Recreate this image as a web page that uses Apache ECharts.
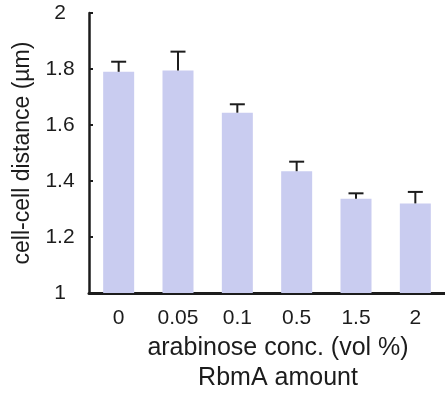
<!DOCTYPE html>
<html>
<head>
<meta charset="utf-8">
<script src="https://cdn.jsdelivr.net/npm/echarts@6/dist/echarts.min.js"></script>
<style>
  html, body { margin: 0; padding: 0; background: #fff; }
  #chart { width: 445px; height: 394px; }
</style>
</head>
<body>
<div id="chart"></div>
<script>
// Arabinose concentrations (vol %) that set RbmA expression
const categories = ['0', '0.05', '0.1', '0.5', '1.5', '2'];
// Mean cell-cell distance (µm)
const meanDistance = [1.79, 1.795, 1.644, 1.435, 1.337, 1.32];
// Upper error (µm)
const errorUp = [0.036, 0.067, 0.03, 0.034, 0.019, 0.041];
// Value-axis tick settings
const yMin = 1, yMax = 2, yStep = 0.2;

const FONT = '"Liberation Sans", Arial, sans-serif';
const INK = '#1c1c1c';

const chart = echarts.init(document.getElementById('chart'), null, { renderer: 'canvas' });

chart.setOption({
  animation: false,
  backgroundColor: '#ffffff',
  grid: { left: 89, top: 13, width: 360, height: 280, containLabel: false },
  xAxis: {
    type: 'category',
    data: categories,
    axisLine: { show: true, lineStyle: { color: INK, width: 3 } },
    axisTick: { show: false },
    axisLabel: { color: INK, fontFamily: FONT, fontSize: 21, margin: 15 }
  },
  yAxis: {
    type: 'value',
    min: yMin, max: yMax, interval: yStep,
    name: 'cell-cell distance (µm)',
    nameLocation: 'middle',
    nameGap: 47,
    nameTextStyle: { color: INK, fontFamily: FONT, fontSize: 23 },
    axisLine: { show: true, lineStyle: { color: INK, width: 2.5 } },
    axisTick: { show: true, inside: true, length: 4, lineStyle: { color: INK, width: 2 } },
    splitLine: { show: false },
    axisLabel: { color: INK, fontFamily: FONT, fontSize: 21, align: 'center', margin: 29 }
  },
  graphic: [
    {
      type: 'text', x: 278, y: 348,
      style: { text: 'arabinose conc. (vol %)', fill: INK, font: '25px ' + FONT, textAlign: 'center', textVerticalAlign: 'middle' }
    },
    {
      type: 'text', x: 278, y: 378,
      style: { text: 'RbmA amount', fill: INK, font: '25px ' + FONT, textAlign: 'center', textVerticalAlign: 'middle' }
    }
  ],
  series: [
    {
      type: 'bar',
      data: meanDistance,
      barWidth: 31,
      itemStyle: { color: '#c9ccf0' },
      z: 2
    },
    {
      type: 'custom',
      z: 3,
      data: meanDistance.map((v, i) => [i, v, v + errorUp[i]]),
      renderItem: function (params, api) {
        const base = api.coord([api.value(0), api.value(1)]);
        const top = api.coord([api.value(0), api.value(2)]);
        const half = 7.5;
        const style = { stroke: INK, lineWidth: 2 };
        return {
          type: 'group',
          children: [
            { type: 'line', shape: { x1: base[0], y1: base[1], x2: top[0], y2: top[1] }, style: style },
            { type: 'line', shape: { x1: top[0] - half, y1: top[1], x2: top[0] + half, y2: top[1] }, style: style }
          ]
        };
      }
    }
  ]
});
</script>
</body>
</html>
